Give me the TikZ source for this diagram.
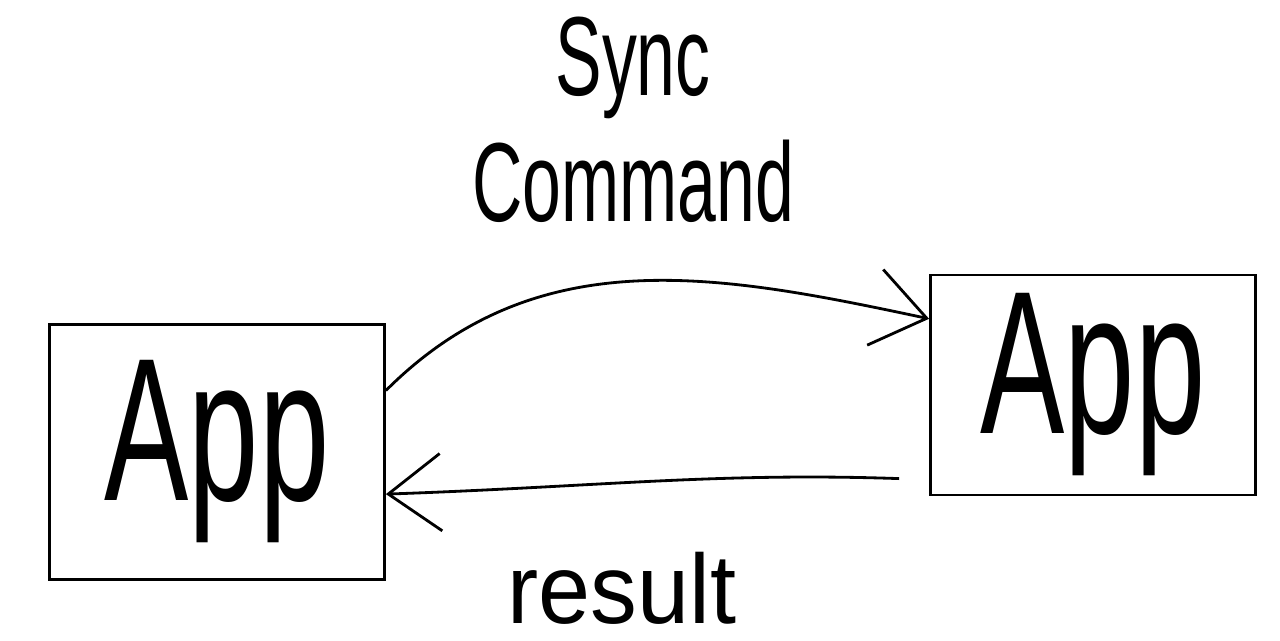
\documentclass[tikz,border=0pt]{standalone}
\usepackage{fontspec}
\usepackage{graphicx}
\setmainfont{Liberation Sans}
\usetikzlibrary{arrows.meta,positioning,calc}
\newcommand{\narrow}[1]{\scalebox{0.62}[1]{#1}}

\begin{document}
\begin{tikzpicture}[x=1cm,y=1cm, line width=0.8pt,
    appbox/.style={draw, inner sep=0pt, font=\fontsize{58}{58}\selectfont},
    tip/.style={-{Straight Barb[length=15pt,width=22pt,line width=0.8pt]}}]
    \useasboundingbox (0,0) rectangle (12.8,6.4);
    \node[appbox, minimum width=3.35cm, minimum height=2.55cm] (appL) at (2.17,1.88) {\narrow{App}};
    \node[appbox, minimum width=3.25cm, minimum height=2.2cm] (appR) at (10.93,2.55) {\narrow{App}};
    % command goes over the top, result comes back underneath
    \draw[tip] (appL.20) to[out=45,in=168] (appR.158);
    \draw[tip, shorten <=0.3cm] (appR.210) to[out=178,in=2] (appL.-14);
    \node[font=\fontsize{32}{36}\selectfont, align=center] (cmd) at (6.33,5.2) {\narrow{Sync}\\\narrow{Command}};
    \node[font=\fontsize{28}{32}\selectfont] (res) at (6.22,0.52) {\scalebox{0.95}[1]{result}};
  \end{tikzpicture}
\end{document}
